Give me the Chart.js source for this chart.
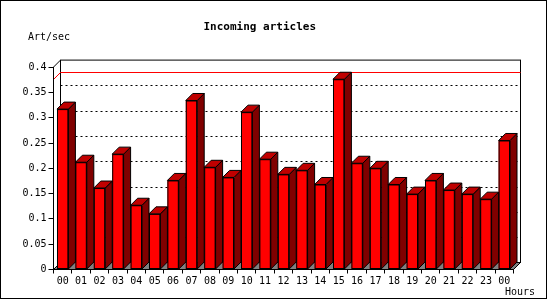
<!DOCTYPE html>
<html><head><meta charset="utf-8">
<script src="https://cdn.jsdelivr.net/npm/chart.js@4/dist/chart.umd.min.js"></script>
<style>html,body{margin:0;padding:0;background:#fff}canvas{display:block}</style>
</head><body>
<canvas id="c" width="550" height="300"></canvas>
<script>
const hours = ['00','01','02','03','04','05','06','07','08','09','10','11','12','13','14','15','16','17','18','19','20','21','22','23','00'];
const artPerSec = [0.317,0.212,0.161,0.228,0.127,0.110,0.176,0.334,0.202,0.182,0.311,0.218,0.188,0.196,0.168,0.376,0.210,0.200,0.168,0.149,0.176,0.157,0.149,0.139,0.255];
const yTickLabels = ['0','0.05','0.1','0.15','0.2','0.25','0.3','0.35','0.4'];
const titleText = 'Incoming articles';
const yUnitText = 'Art/sec';
const xUnitText = 'Hours';

const DX = 7, DY = 7;
const MONO = "'DejaVu Sans Mono', 'Liberation Mono', monospace";

function seg(ctx, x1, y1, x2, y2) { ctx.beginPath(); ctx.moveTo(x1, y1); ctx.lineTo(x2, y2); ctx.stroke(); }
function poly(ctx, pts, fill) {
  ctx.beginPath(); ctx.moveTo(pts[0][0], pts[0][1]);
  for (let i = 1; i < pts.length; i++) ctx.lineTo(pts[i][0], pts[i][1]);
  ctx.closePath(); ctx.fillStyle = fill; ctx.fill(); ctx.stroke();
}

const frame3d = {
  id: 'frame3d',
  beforeDraw(chart) {
    const ctx = chart.ctx, a = chart.chartArea, ys = chart.scales.y;
    ctx.save();
    ctx.fillStyle = '#fff'; ctx.fillRect(0, 0, chart.width, chart.height);
    ctx.strokeStyle = '#000'; ctx.lineWidth = 1;
    ctx.strokeRect(0.5, 0.5, 546, 298);
    const bl = a.left + DX, br = a.right + DX, bt = a.top - DY, bb = a.bottom - DY;
    // floor
    ctx.fillStyle = '#808080';
    ctx.beginPath(); ctx.moveTo(a.left, a.bottom); ctx.lineTo(a.right, a.bottom);
    ctx.lineTo(br, bb); ctx.lineTo(bl, bb); ctx.closePath(); ctx.fill();
    // back wall
    ctx.fillStyle = '#fff'; ctx.fillRect(bl, bt, br - bl, bb - bt);
    ctx.setLineDash([2, 3]);
    ys.ticks.forEach(t => {
      if (t.value > 1e-9 && t.value < ys.max - 1e-9) {
        const py = Math.round(ys.getPixelForValue(t.value) - DY) + 0.5;
        seg(ctx, bl, py, br, py);
      }
    });
    ctx.setLineDash([]);
    ctx.strokeRect(bl, bt, br - bl, bb - bt);
    seg(ctx, a.left, a.top, bl, bt);
    seg(ctx, a.left, a.bottom, bl, bb);
    seg(ctx, a.right, a.bottom, br, bb);
    // max line
    const maxV = Math.max(...artPerSec);
    const my = Math.round(ys.getPixelForValue(maxV)) + 0.5;
    ctx.strokeStyle = '#f00';
    seg(ctx, bl, my - DY, br, my - DY);
    seg(ctx, a.left, my, bl, my - DY);
    // unit texts
    ctx.fillStyle = '#000';
    ctx.font = '10px ' + MONO;
    ctx.textBaseline = 'middle';
    ctx.textAlign = 'left';
    ctx.fillText(yUnitText, 28, 37.5);
    ctx.textAlign = 'right';
    ctx.fillText(xUnitText, 535, 292);
    ctx.restore();
  },
  afterDatasetsDraw(chart) {
    const ctx = chart.ctx;
    ctx.save();
    ctx.strokeStyle = '#000'; ctx.lineWidth = 1; ctx.lineJoin = 'miter';
    chart.getDatasetMeta(0).data.forEach(el => {
      const p = el.getProps(['x', 'y', 'base', 'width'], true);
      const l = p.x - p.width / 2, r = p.x + p.width / 2, t = p.y, b = p.base;
      poly(ctx, [[r, b], [r, t], [r + DX, t - DY], [r + DX, b - DY]], '#800000');
      poly(ctx, [[l, t], [r, t], [r + DX, t - DY], [l + DX, t - DY]], '#c00000');
      ctx.strokeRect(l + 0.5, t + 0.5, p.width - 1, b - t - 1);
    });
    ctx.restore();
  }
};

new Chart(document.getElementById('c'), {
  type: 'bar',
  data: {
    labels: hours,
    datasets: [{
      data: artPerSec,
      backgroundColor: '#ff0000',
      borderColor: '#000000',
      borderWidth: 0,
      borderSkipped: false,
      categoryPercentage: 1,
      barPercentage: 0.62
    }]
  },
  options: {
    responsive: false,
    animation: false,
    devicePixelRatio: 1,
    layout: { padding: { left: 6, right: 36.5, top: 0, bottom: 0 } },
    plugins: {
      legend: { display: false },
      tooltip: { enabled: false },
      title: {
        display: true, text: titleText, color: '#000',
        font: { family: MONO, size: 11, weight: 'bold' },
        padding: { top: 20.4, bottom: 33.5 }
      }
    },
    scales: {
      x: {
        afterFit(s) { s.height = 30.5; },
        grid: { offset: true, drawOnChartArea: false, drawTicks: true, tickLength: 4, color: '#000' },
        border: { display: true, color: '#000', width: 1 },
        ticks: { color: '#000', font: { family: MONO, size: 10 }, padding: 2, maxRotation: 0, autoSkip: false }
      },
      y: {
        min: 0, max: 0.4,
        afterFit(s) { s.width = 47.5; },
        grid: { drawOnChartArea: false, drawTicks: true, tickLength: 5, color: '#000' },
        border: { display: true, color: '#000', width: 1 },
        ticks: { stepSize: 0.05, color: '#000', font: { family: MONO, size: 10 }, padding: 2,
          callback: (v, i) => yTickLabels[i] }
      }
    }
  },
  plugins: [frame3d]
});
</script>
</body></html>
